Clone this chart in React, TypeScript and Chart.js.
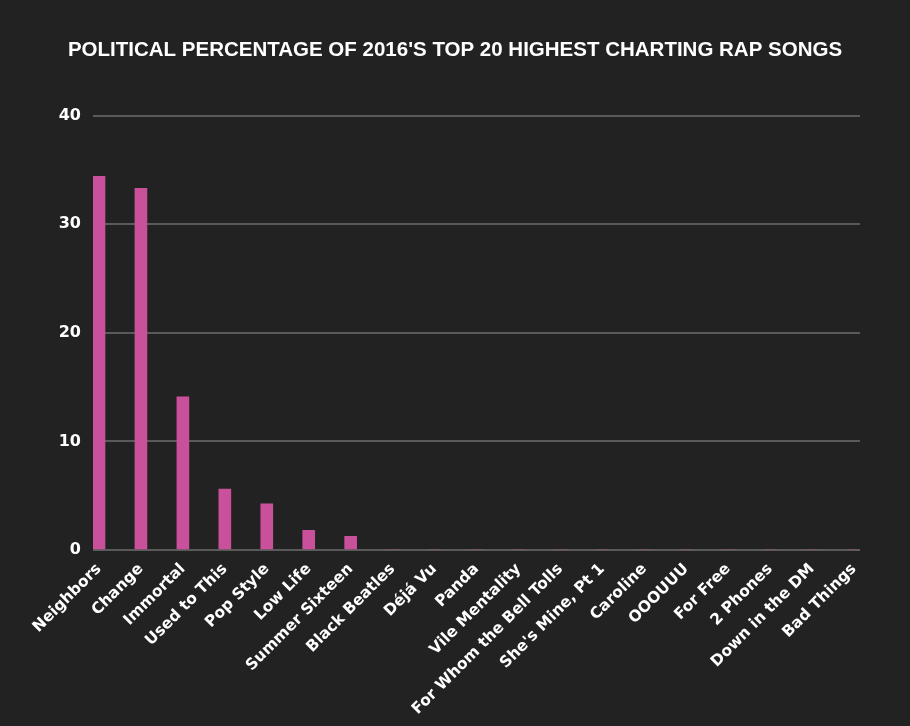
import React, { useEffect, useRef } from "react";
import { Chart, registerables } from "chart.js";

Chart.register(...registerables);

const songs: string[] = [
  "Neighbors",
  "Change",
  "Immortal",
  "Used to This",
  "Pop Style",
  "Low Life",
  "Summer Sixteen",
  "Black Beatles",
  "Déjá Vu",
  "Panda",
  "Vile Mentality",
  "For Whom the Bell Tolls",
  "She's Mine, Pt 1",
  "Caroline",
  "OOOUUU",
  "For Free",
  "2 Phones",
  "Down in the DM",
  "Bad Things",
];

const politicalPercent: number[] = [
  34.4, 33.3, 14.1, 5.6, 4.25, 1.8, 1.25, 0, 0, 0, 0, 0, 0, 0, 0, 0, 0, 0, 0,
];

const yTicks: number[] = [0, 10, 20, 30, 40];

const TITLE = "POLITICAL PERCENTAGE OF 2016'S TOP 20 HIGHEST CHARTING RAP SONGS";

export default function App() {
  const canvasRef = useRef<HTMLCanvasElement | null>(null);

  useEffect(() => {
    document.body.style.margin = "0";
    document.body.style.background = "#222222";
    const canvas = canvasRef.current;
    if (!canvas) return;

    const bgPlugin = {
      id: "bg",
      beforeDraw(chart: any) {
        const { ctx, width, height } = chart;
        ctx.save();
        ctx.fillStyle = "#222222";
        ctx.fillRect(0, 0, width, height);
        ctx.restore();
      },
    };

    const chart = new Chart(canvas, {
      type: "bar",
      data: {
        datasets: [
          {
            label: "Political %",
            data: politicalPercent.map((v, i) => ({ x: i, y: v })),
            backgroundColor: "#c9509b",
            barThickness: 12,
          },
        ],
      },
      options: {
        animation: false,
        responsive: false,
        devicePixelRatio: 1,
        layout: { padding: { left: 0, right: 0, top: 0, bottom: 0 } },
        plugins: {
          legend: { display: false },
          tooltip: { enabled: false },
          title: {
            display: true,
            text: TITLE,
            color: "#ffffff",
            font: { family: "'Liberation Sans', Arial, sans-serif", size: 20.5, weight: "bold", lineHeight: 1.2 },
            padding: { top: 38, bottom: 53 },
          },
        },
        scales: {
          x: {
            type: "linear",
            min: -0.143,
            max: songs.length - 1 + 0.143,
            offset: false,
            grid: { display: false },
            border: { display: false },
            afterBuildTicks: (scale: any) => {
              scale.ticks = songs.map((_, i) => ({ value: i }));
            },
            afterFit: (scale: any) => {
              scale.height = 176;
            },
            ticks: {
              autoSkip: false,
              minRotation: 45,
              maxRotation: 45,
              padding: 2,
              color: "#ffffff",
              font: { family: "'DejaVu Sans', sans-serif", size: 15.5, weight: "bold" },
              callback: (value: any) => songs[Math.round(Number(value))] ?? "",
            },
          },
          y: {
            min: 0,
            max: 40,
            afterBuildTicks: (scale: any) => {
              scale.ticks = yTicks.map((v) => ({ value: v }));
            },
            afterFit: (scale: any) => {
              scale.width = 93;
            },
            grid: { color: "#5a5a5a", lineWidth: 2, drawTicks: false },
            border: { display: false },
            ticks: {
              padding: 12,
              color: "#ffffff",
              font: { family: "'DejaVu Sans', sans-serif", size: 16, weight: "bold" },
            },
          },
          yRight: {
            position: "right",
            min: 0,
            max: 40,
            grid: { display: false, drawTicks: false },
            border: { display: false },
            ticks: { display: false },
            afterFit: (scale: any) => {
              scale.width = 50;
            },
          },
        },
      },
      plugins: [bgPlugin],
    } as any);

    return () => {
      chart.destroy();
    };
  }, []);

  return (
    <div style={{ width: 910, height: 726, background: "#222222" }}>
      <canvas ref={canvasRef} width={910} height={726} style={{ display: "block" }} />
    </div>
  );
}
